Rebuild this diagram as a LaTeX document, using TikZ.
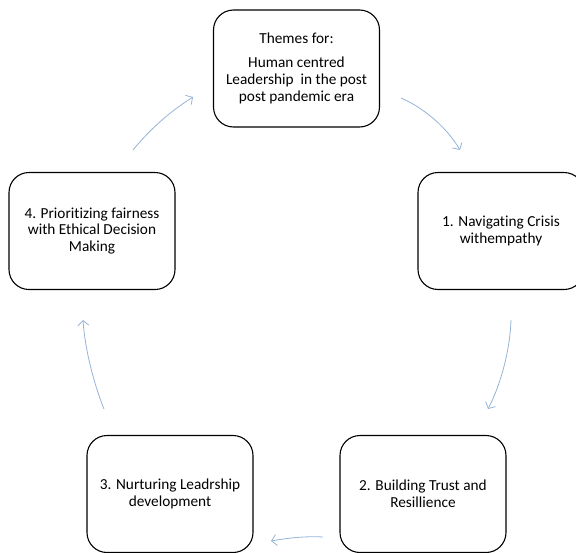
\documentclass[tikz,border=0pt]{standalone}
\usepackage{fontspec}
\setmainfont{Carlito}[Ligatures=NoCommon]
\usetikzlibrary{arrows.meta}
\definecolor{arrowblue}{RGB}{149,179,215}
\tikzset{
  stagebox/.style={draw=black, line width=1.1pt, rounded corners=20pt, minimum width=166pt, minimum height=117pt, align=center, inner sep=0pt, font=\fontsize{15.3}{16.8}\selectfont},
  cyclearrow/.style={draw=arrowblue, line width=0.8pt, -{Straight Barb[length=5pt,width=11pt]}}
}
\begin{document}
\begin{tikzpicture}[x=1pt,y=-1pt]
\useasboundingbox (0,0) rectangle (576,552);
\node[stagebox] (top) at (296.5,68.5) {Themes for:\\[7pt]Human centred\\Leadership\ \ in the post\\post pandemic era};
\node[stagebox] (one) at (501,231) {1. Navigating Crisis\\withempathy};
\node[stagebox] (two) at (423,494) {2. Building Trust and\\Resillience};
\node[stagebox] (three) at (170,494) {3. Nurturing Leadrship\\development};
\node[stagebox] (four) at (92,231) {4. Prioritizing fairness\\with Ethical Decision\\Making};
\coordinate (a1s) at (401,98);
\coordinate (a1e) at (460,150);
\coordinate (a2s) at (511,320);
\coordinate (a2e) at (488,409);
\coordinate (a3s) at (323,537);
\coordinate (a3e) at (271,541);
\coordinate (a4s) at (104,409);
\coordinate (a4e) at (83,320);
\coordinate (a5s) at (133,150);
\coordinate (a5e) at (193,97);
\draw[cyclearrow] (a1s) .. controls (422,107) and (446,126) .. (a1e);
\draw[cyclearrow] (a2s) .. controls (510,350) and (501,384) .. (a2e);
\draw[cyclearrow] (a3s) .. controls (305,536) and (288,538) .. (a3e);
\draw[cyclearrow] (a4s) .. controls (94,384) and (85,350) .. (a4e);
\draw[cyclearrow] (a5s) .. controls (151,128) and (171,111) .. (a5e);
\end{tikzpicture}
\end{document}
